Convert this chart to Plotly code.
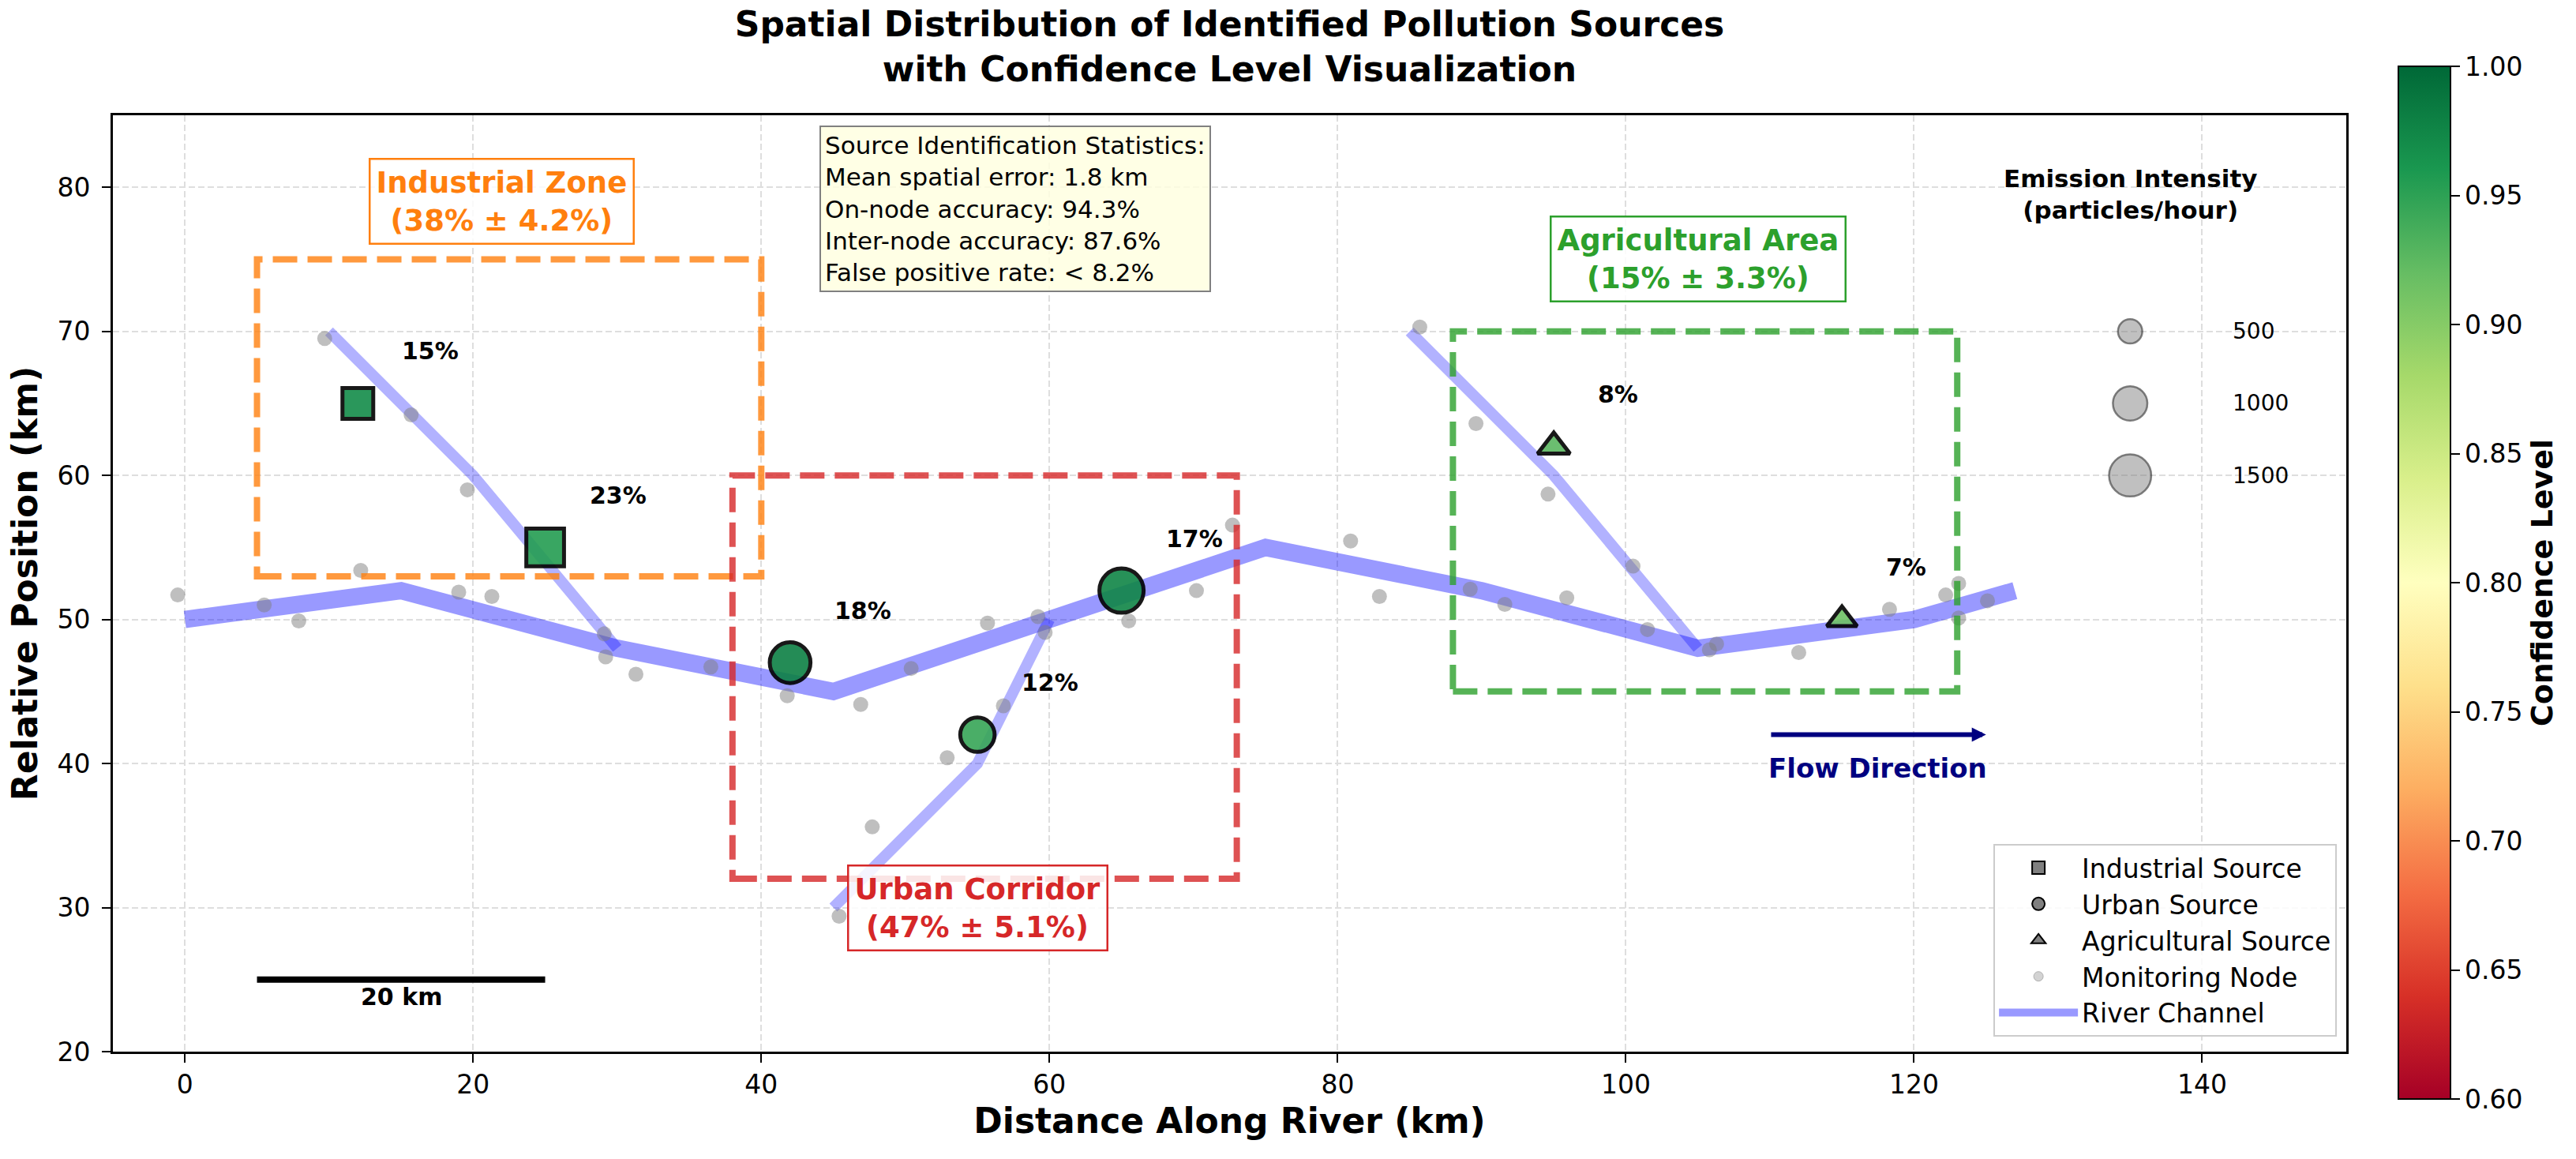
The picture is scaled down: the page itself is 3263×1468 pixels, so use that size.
import numpy as np
import plotly.graph_objects as go

FONT = "DejaVu Sans"

# ---- river network ----
river_x = [0, 15, 30, 45, 60, 75, 90, 105, 120, 127]
river_y = [50, 52, 48, 45, 50, 55, 52, 48, 50, 52]
trib1_x = [10, 20, 30]
trib1_y = [70, 60, 48]
trib2_x = [45, 55, 60]
trib2_y = [30, 40, 50]
trib3_x = [85, 95, 105]
trib3_y = [70, 60, 48]

# ---- monitoring nodes ----
node_x = [-0.5, 5.5, 7.9, 9.7, 12.2, 15.7, 19.0, 19.6, 21.3, 29.1, 29.2, 31.3,
          36.5, 41.8, 45.4, 46.9, 47.7, 50.4, 52.9, 55.7, 56.8, 59.2, 59.7, 65.5,
          70.2, 72.7, 80.9, 82.9, 85.7, 89.6, 89.2, 91.6, 94.6, 95.9, 100.5, 101.5,
          105.8, 106.3, 112.0, 118.3, 122.2, 123.1, 123.1, 125.1]
node_y = [51.7, 51.0, 49.9, 69.5, 53.4, 64.2, 51.9, 59.0, 51.6, 49.0, 47.4, 46.2,
          46.7, 44.7, 29.4, 44.1, 35.6, 46.6, 40.4, 49.75, 44.0, 50.2, 49.1, 49.9,
          52.0, 56.55, 55.45, 51.6, 70.3, 63.6, 52.1, 51.05, 58.7, 51.5, 53.7, 49.3,
          47.9, 48.3, 47.7, 50.7, 51.7, 52.5, 50.1, 51.3]

# ---- identified sources ----
ind_x = [12, 25]
ind_y = [65, 55]
ind_conf = [0.97, 0.955]
ind_emission = [800, 1200]
ind_share = [15, 23]

urb_x = [42, 55, 65]
urb_y = [47, 42, 52]
urb_conf = [0.98, 0.945, 0.975]
urb_emission = [1400, 1000, 1650]
urb_share = [18, 12, 17]

agr_x = [95, 115]
agr_y = [62, 50]
agr_conf = [0.925, 0.915]
agr_emission = [550, 480]
agr_share = [8, 7]

# ---- zones ----
zone_names = ["Industrial Zone", "Urban Corridor", "Agricultural Area"]
zone_pct = [38, 47, 15]
zone_err = [4.2, 5.1, 3.3]
zone_x0 = [5, 38, 88]
zone_x1 = [40, 73, 123]
zone_y0 = [53, 32, 45]
zone_y1 = [75, 60, 70]
zone_label_x = [22, 55, 105]
zone_label_y = [79, 30, 75]
zone_text_colors = ["#ff7f0e", "#d62728", "#2ca02c"]
zone_line_colors = ["rgba(255,127,14,0.8)", "rgba(214,39,40,0.8)", "rgba(44,160,44,0.8)"]

# ---- emission size key ----
size_key_values = [500, 1000, 1500]
size_key_y = [70, 65, 60]
SIZE_KEY_X = 135

stats_lines = ["Source Identification Statistics:",
               "Mean spatial error: 1.8 km",
               "On-node accuracy: 94.3%",
               "Inter-node accuracy: 87.6%",
               "False positive rate: < 8.2%"]


def px_size(emission, factor=1.0):
    return list(np.sqrt(np.array(emission) * 1.9) * factor)


fig = go.Figure()

# river channel + tributaries
fig.add_trace(go.Scatter(x=river_x, y=river_y, mode="lines", showlegend=False,
                         line=dict(color="rgba(0,0,255,0.4)", width=22)))
for tx, ty in [(trib1_x, trib1_y), (trib2_x, trib2_y), (trib3_x, trib3_y)]:
    fig.add_trace(go.Scatter(x=tx, y=ty, mode="lines", showlegend=False,
                             line=dict(color="rgba(0,0,255,0.3)", width=14)))

# monitoring nodes
fig.add_trace(go.Scatter(x=node_x, y=node_y, mode="markers", showlegend=False,
                         marker=dict(color="gray", size=19, opacity=0.5, line=dict(width=0))))

# sources
groups = [
    (ind_x, ind_y, ind_conf, ind_emission, "square", 1.0),
    (urb_x, urb_y, urb_conf, urb_emission, "circle", 1.0),
    (agr_x, agr_y, agr_conf, agr_emission, "triangle-up", 1.1),
]
for gx, gy, gc, ge, sym, fac in groups:
    fig.add_trace(go.Scatter(
        x=gx, y=gy, mode="markers", showlegend=False,
        marker=dict(symbol=sym, size=px_size(ge, fac), color=gc, coloraxis="coloraxis",
                    opacity=0.9, line=dict(color="black", width=5))))

# emission intensity key
fig.add_trace(go.Scatter(
    x=[SIZE_KEY_X] * len(size_key_values), y=size_key_y, mode="markers", showlegend=False,
    marker=dict(size=px_size(size_key_values), color="rgba(128,128,128,0.7)",
                line=dict(color="rgba(0,0,0,0.7)", width=2.5))))

# legend entries
legend_items = [
    ("Industrial Source", dict(mode="markers", marker=dict(symbol="square", size=16, color="gray",
                                                           line=dict(color="black", width=2)))),
    ("Urban Source", dict(mode="markers", marker=dict(symbol="circle", size=16, color="gray",
                                                      line=dict(color="black", width=2)))),
    ("Agricultural Source", dict(mode="markers", marker=dict(symbol="triangle-up", size=16, color="gray",
                                                             line=dict(color="black", width=2)))),
    ("Monitoring Node", dict(mode="markers", marker=dict(symbol="circle", size=12, color="#d3d3d3",
                                                         line=dict(color="#b0b0b0", width=1)))),
    ("River Channel", dict(mode="lines", line=dict(color="rgba(0,0,255,0.4)", width=10))),
]
for i, (name, kw) in enumerate(legend_items):
    fig.add_trace(go.Scatter(x=[None], y=[None], name=name, legendgroup=f"g{i}",
                             legendrank=i + 1, **kw))

# zone rectangles and labels
for i in range(len(zone_names)):
    fig.add_shape(type="rect", xref="x", yref="y",
                  x0=zone_x0[i], x1=zone_x1[i], y0=zone_y0[i], y1=zone_y1[i],
                  line=dict(color=zone_line_colors[i], width=8, dash="31px,13px"),
                  fillcolor="rgba(0,0,0,0)", layer="above")
    fig.add_annotation(x=zone_label_x[i], y=zone_label_y[i], xref="x", yref="y",
                       text=f"<b>{zone_names[i]}<br>({zone_pct[i]}% ± {zone_err[i]}%)</b>",
                       showarrow=False, font=dict(family=FONT, size=37, color=zone_text_colors[i]),
                       bgcolor="rgba(255,255,255,0.85)", bordercolor=zone_text_colors[i],
                       borderwidth=2.5, borderpad=7, xanchor="center", yanchor="middle")

# contribution labels
for gx, gy, gs in [(ind_x, ind_y, ind_share), (urb_x, urb_y, urb_share), (agr_x, agr_y, agr_share)]:
    for x, y, s in zip(gx, gy, gs):
        fig.add_annotation(x=x, y=y, xref="x", yref="y", text=f"<b>{s}%</b>", showarrow=False,
                           xanchor="left", yanchor="middle", xshift=54, yshift=66,
                           font=dict(family=FONT, size=30, color="black"))

# emission key text
fig.add_annotation(x=SIZE_KEY_X, y=79.5, xref="x", yref="y",
                   text="<b>Emission Intensity<br>(particles/hour)</b>", showarrow=False,
                   font=dict(family=FONT, size=31, color="black"), xanchor="center", yanchor="middle")
for v, y in zip(size_key_values, size_key_y):
    fig.add_annotation(x=SIZE_KEY_X + 7.0, y=y, xref="x", yref="y", text=str(v), showarrow=False,
                       font=dict(family=FONT, size=28, color="black"), xanchor="left", yanchor="middle")

# statistics box
fig.add_annotation(x=0.3164, y=0.989, xref="paper", yref="paper", text="<br>".join(stats_lines),
                   showarrow=False, align="left", xanchor="left", yanchor="top",
                   font=dict(family=FONT, size=31, color="black"),
                   bgcolor="rgba(255,255,224,0.85)", bordercolor="gray", borderwidth=2, borderpad=5)

# scale bar
SCALE_X0, SCALE_LEN, SCALE_Y = 5, 20, 25
fig.add_shape(type="line", xref="x", yref="y", x0=SCALE_X0, x1=SCALE_X0 + SCALE_LEN,
              y0=SCALE_Y, y1=SCALE_Y, line=dict(color="black", width=8))
fig.add_annotation(x=SCALE_X0 + SCALE_LEN / 2, y=SCALE_Y - 1.2, xref="x", yref="y",
                   text=f"<b>{SCALE_LEN} km</b>", showarrow=False, yanchor="middle",
                   font=dict(family=FONT, size=30, color="black"))

# flow direction arrow
FLOW_X0, FLOW_X1, FLOW_Y = 110, 125, 42
fig.add_annotation(x=FLOW_X1, y=FLOW_Y, ax=FLOW_X0, ay=FLOW_Y, xref="x", yref="y",
                   axref="x", ayref="y", text="", showarrow=True, arrowhead=2,
                   arrowsize=0.6, arrowwidth=6, arrowcolor="navy")
fig.add_annotation(x=(FLOW_X0 + FLOW_X1) / 2, y=FLOW_Y - 2.3, xref="x", yref="y",
                   text="<b>Flow Direction</b>", showarrow=False, yanchor="middle",
                   font=dict(family=FONT, size=34, color="navy"))

axis_common = dict(
    showline=True, linecolor="black", linewidth=2.7, mirror=True,
    ticks="outside", ticklen=11, tickwidth=2, tickcolor="black",
    tickfont=dict(family=FONT, size=33, color="black"),
    showgrid=True, gridcolor="#dedede", gridwidth=1.5, griddash="8px,4px",
    zeroline=False, automargin=False,
)

fig.update_layout(
    width=3263, height=1468,
    template="none",
    paper_bgcolor="white", plot_bgcolor="white",
    margin=dict(l=143, r=291, t=146, b=136),
    title=dict(text="<b>Spatial Distribution of Identified Pollution Sources<br>"
                    "with Confidence Level Visualization</b>",
               x=0.5, xref="paper", y=0.969, yref="container", yanchor="middle", xanchor="center",
               font=dict(family=FONT, size=44, color="black")),
    xaxis=dict(range=[-5, 150], tickvals=list(range(0, 141, 20)),
               title=dict(text="<b>Distance Along River (km)</b>", standoff=12,
                          font=dict(family=FONT, size=44, color="black")),
               **axis_common),
    yaxis=dict(range=[20, 85], tickvals=list(range(20, 81, 10)), ticklabelstandoff=8,
               title=dict(text="<b>Relative Position (km)</b>", standoff=12,
                          font=dict(family=FONT, size=44, color="black")),
               **axis_common),
    coloraxis=dict(
        colorscale="RdYlGn", cmin=0.6, cmax=1.0,
        colorbar=dict(
            x=1.0233, xanchor="left", xpad=0, y=0.5008, yanchor="middle", ypad=0,
            len=1308, lenmode="pixels", thickness=66, thicknessmode="pixels",
            outlinecolor="black", outlinewidth=2,
            tickvals=[0.6, 0.65, 0.7, 0.75, 0.8, 0.85, 0.9, 0.95, 1.0], tickformat=".2f",
            ticks="outside", ticklen=11, tickwidth=2, tickcolor="black",
            tickfont=dict(family=FONT, size=33, color="black"),
            title=dict(text="<b>Confidence Level</b>", side="right",
                       font=dict(family=FONT, size=38, color="black")),
        ),
    ),
    legend=dict(x=0.9958, xanchor="right", y=0.016, yanchor="bottom",
                bgcolor="rgba(255,255,255,0.85)", bordercolor="#cccccc", borderwidth=2,
                font=dict(family=FONT, size=33, color="black"),
                tracegroupgap=16, itemwidth=100, traceorder="normal"),
    showlegend=True,
)

# remove the default page margin so the figure sits at the window origin
fig.write_html("out.html", config={"displayModeBar": False},
               post_script="document.body.style.margin='0';")
